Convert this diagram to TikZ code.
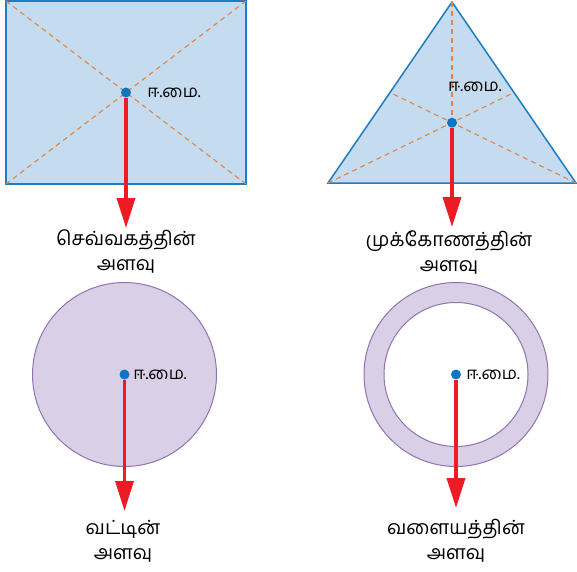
\documentclass[tikz,border=0pt]{standalone}
\usepackage{fontspec}
\newfontfamily\tamilfont[Script=Tamil]{Hind Madurai}
\usepackage{tikz}
\usetikzlibrary{arrows.meta, positioning, calc}
\definecolor{shapeblue}{HTML}{C5DBEF}
\definecolor{edgeblue}{HTML}{1D7CC2}
\definecolor{medianorange}{HTML}{E8823E}
\definecolor{weightred}{HTML}{ED1C24}
\definecolor{dotblue}{HTML}{0B76C3}
\definecolor{discviolet}{HTML}{D9CFE6}
\definecolor{edgeviolet}{HTML}{8F74AF}

\begin{document}
\begin{tikzpicture}[
    x=1pt, y=-1pt,
    cg/.style={circle, fill=dotblue, inner sep=0pt, minimum size=10pt},
    cglabel/.style={font=\tamilfont\fontsize{17}{17}\selectfont, inner sep=0pt},
    shapename/.style={font=\tamilfont\fontsize{19.5}{25}\selectfont, align=center,
                      inner sep=0pt},
    median/.style={medianorange, dash pattern=on 5pt off 4pt, line width=1.1pt},
    weight/.style={-{Triangle[length=30pt, width=18pt]}, weightred, line width=3.5pt}
]
\useasboundingbox (0,0) rectangle (577,571);

% Rectangle
\draw[edgeblue, fill=shapeblue, line width=1.5pt] (6,1) rectangle (246,184);
\draw[median] (6,1) -- (246,184);
\draw[median] (246,1) -- (6,184);
\node[cg] at (126,92.5) (cgrect) {};
\node[cglabel, right=16pt of cgrect] (cgrect-l) {ஈ.மை.};
\coordinate (rect-tip) at (126,228);
\node[shapename] at (126,251) (rectname) {செவ்வகத்தின்\\அளவு};

% Triangle
\coordinate (ta) at (452,2);
\coordinate (tb) at (328,183);
\coordinate (tc) at (576,183);
\draw[edgeblue, fill=shapeblue, line width=1.5pt] (ta) -- (tb) -- (tc) -- cycle;
\draw[median] (ta) -- ($(tb)!0.5!(tc)$);
\draw[median] (tb) -- ($(ta)!0.5!(tc)$);
\draw[median] (tc) -- ($(ta)!0.5!(tb)$);
\node[cg] at ($(ta)!2/3!($(tb)!0.5!(tc)$)$) (cgtri) {};
\node[cglabel, anchor=west] at (448,87) (cgtri-l) {ஈ.மை.};
\coordinate (tri-tip) at (cgtri |- 0,227);
\node[shapename] at (449,252) (triname) {முக்கோணத்தின்\\அளவு};

% Disc
\draw[edgeviolet, fill=discviolet, line width=1pt] (124.5,374.5) circle[radius=92];
\node[cg] at (124.5,374.5) (cgdisc) {};
\node[cglabel, right=3.5pt of cgdisc] (cgdisc-l) {ஈ.மை.};
\coordinate (disc-tip) at (124.5,511);
\node[shapename] at (123,541) (discname) {வட்டின்\\அளவு};

% Ring
\fill[discviolet, even odd rule] (456,374.5) circle[radius=92] (456,374.5) circle[radius=72];
\draw[edgeviolet, line width=1pt] (456,374.5) circle[radius=92] (456,374.5) circle[radius=72];
\node[cg] at (456,374.5) (cgring) {};
\node[cglabel, right=5pt of cgring] (cgring-l) {ஈ.மை.};
\coordinate (ring-tip) at (456,508);
\node[shapename] at (456,541) (ringname) {வளையத்தின்\\அளவு};

% Weights
\draw[weight] (cgrect) -- (rect-tip);
\draw[weight] (cgtri) -- (tri-tip);
\draw[weight] (cgdisc) -- (disc-tip);
\draw[weight] (cgring) -- (ring-tip);

\end{tikzpicture}
\end{document}
